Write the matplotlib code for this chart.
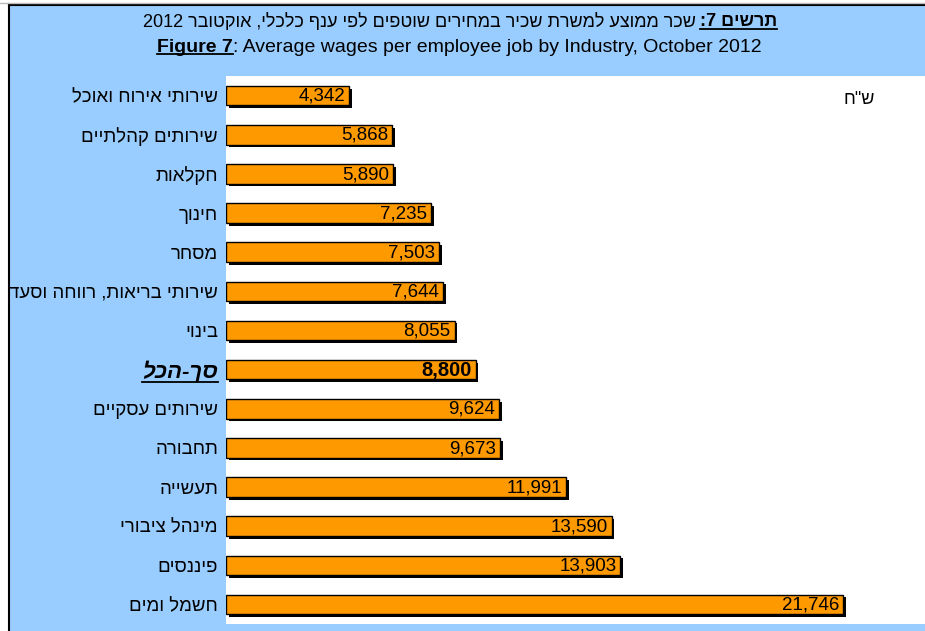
import matplotlib
matplotlib.use("Agg")
import matplotlib.pyplot as plt
import matplotlib.patheffects as pe
from matplotlib.lines import Line2D
from matplotlib.patches import Rectangle

plt.rcParams['font.family'] = ['Liberation Sans', 'DejaVu Sans']

# נתונים (סדר מלמעלה למטה)
categories = ["שירותי אירוח ואוכל", "שירותים קהלתיים", "חקלאות", "חינוך", "מסחר",
              "שירותי בריאות, רווחה וסעד", "בינוי", "סך-הכל", "שירותים עסקיים",
              "תחבורה", "תעשייה", "מינהל ציבורי", "פיננסים", "חשמל ומים"]
values = [4342, 5868, 5890, 7235, 7503, 7644, 8055, 8800, 9624, 9673,
          11991, 13590, 13903, 21746]
total_label = "סך-הכל"

title_he_bold = "תרשים 7:"
title_he_rest = "שכר ממוצע למשרת שכיר במחירים שוטפים לפי ענף כלכלי, אוקטובר 2012"
title_en_bold = "Figure 7"
title_en_rest = ": Average wages per employee job by Industry, October 2012"
unit_label = 'ש"ח'

BLUE = "#99CCFF"
ORANGE = "#FF9900"
W, H = 925, 631


def vis(s):
    # סדר חזותי פשוט לעברית (matplotlib לא עושה bidi)
    return s[::-1]


def vis_title(s):
    # הופך מילים עבריות, משאיר מספרים משמאל לימין
    words = s.split(" ")
    out = []
    for w in words:
        if w.isdigit():
            out.append(w)
        elif w.endswith(","):
            out.append("," + w[:-1][::-1])
        else:
            out.append(w[::-1])
    return " ".join(out[::-1])


fig = plt.figure(figsize=(W / 100, H / 100), dpi=100, facecolor="white")

# רקע כחול ומסגרת
bg = Rectangle((9 / W, 0), 1 - 9 / W, 1 - 5 / H, transform=fig.transFigure,
               facecolor=BLUE, edgecolor="none", zorder=-5)
fig.add_artist(bg)
fig.add_artist(Line2D([8.5 / W, 8.5 / W], [0, 1 - 4 / H], color="black", lw=1.5))
fig.add_artist(Line2D([8.5 / W, 1], [1 - 4.5 / H, 1 - 4.5 / H], color="black", lw=1.5))
fig.add_artist(Line2D([0, 1], [1 - 2.5 / H, 1 - 2.5 / H], color="#bbbbbb", lw=1))

ax = fig.add_axes([226 / W, 7 / H, 699 / W, 548 / H])
ax.set_zorder(1)
ax.set_facecolor("white")
scale = (843 - 226) / 21746.0
ax.set_xlim(0, 699 / scale)
ax.set_ylim(len(values) - 0.5, -0.5)
for s in ax.spines.values():
    s.set_visible(False)
ax.set_xticks([])

ypos = list(range(len(values)))
bars = ax.barh(ypos, values, height=0.5, color=ORANGE, edgecolor="black", linewidth=1,
               zorder=3)
for b in bars:
    b.set_path_effects([pe.SimplePatchShadow(offset=(2, -2), shadow_rgbFace="black",
                                             alpha=1.0), pe.Normal()])

for y, v, c in zip(ypos, values, categories):
    bold = c == total_label
    ax.text(v - 4 / scale, y + 0.02, f"{v:,}", ha="right", va="center",
            fontsize=13.5 if not bold else 14.5, fontweight="bold" if bold else "normal",
            zorder=4)

ax.set_yticks(ypos)
ax.set_yticklabels([vis(c) for c in categories], fontsize=13.4)
ax.tick_params(axis="y", length=0, pad=5.8)
total_tick = None
for t, c in zip(ax.get_yticklabels(), categories):
    if c == total_label:
        t.set_fontweight("bold")
        t.set_fontstyle("italic")
        t.set_fontsize(16)
        total_tick = t

fig.text(875 / W, 1 - 100 / H, vis(unit_label), ha="right", va="center", fontsize=13,
         zorder=5)

# כותרות
t1b = fig.text(777 / W, 1 - 22 / H, vis_title(title_he_bold), ha="right", va="center",
               fontsize=13, fontweight="bold")
fig.canvas.draw()
r = fig.canvas.get_renderer()
bb = t1b.get_window_extent(r)
t1r = fig.text((bb.x0 - 4) / W, 1 - 22 / H, vis_title(title_he_rest), ha="right",
               va="center", fontsize=13)

t2b = fig.text(157 / W, 1 - 47 / H, title_en_bold, ha="left", va="center",
               fontsize=14, fontweight="bold")
fig.canvas.draw()
bb2 = t2b.get_window_extent(r)
t2r = fig.text(bb2.x1 / W, 1 - 47 / H, title_en_rest, ha="left", va="center",
               fontsize=14)
fig.canvas.draw()


def underline(t, off=2):
    e = t.get_window_extent(r)
    fig.add_artist(Line2D([e.x0 / W, e.x1 / W], [(e.y0 + off) / H, (e.y0 + off) / H],
                          color="black", lw=1.3, zorder=5))


underline(t1b)
underline(t2b)
if total_tick is not None:
    underline(total_tick, off=1)

fig.savefig("out.png", dpi=100, facecolor=fig.get_facecolor())
